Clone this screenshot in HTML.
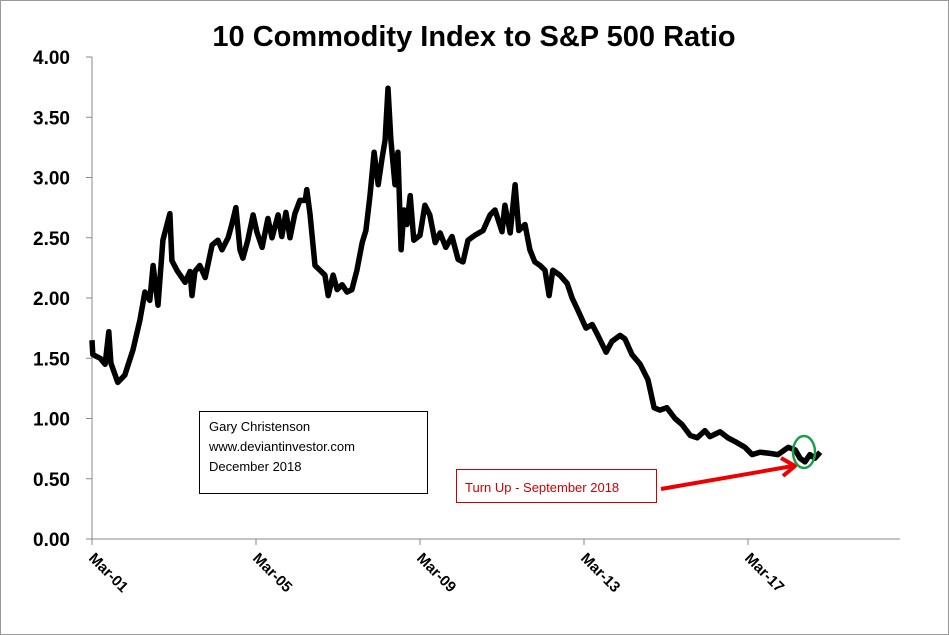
<!DOCTYPE html>
<html><head><meta charset="utf-8"><style>
body{margin:0;background:#fff}
svg{display:block;font-family:"Liberation Sans",sans-serif}
</style></head><body>
<svg id="chart" width="949" height="635">
<rect x="0.5" y="0.5" width="948" height="634" fill="#fff" stroke="#999"/>
<text x="474" y="46" text-anchor="middle" font-size="29" font-weight="bold">10 Commodity Index to S&amp;P 500 Ratio</text>
<g id="axes"></g>
<path id="line" fill="none" stroke="#000" stroke-width="5.5" stroke-linejoin="round"/>
<rect x="199.5" y="411.5" width="228" height="82" fill="#fff" stroke="#000"/>
<text font-size="13"><tspan x="209" y="431">Gary Christenson</tspan><tspan x="209" y="451">www.deviantinvestor.com</tspan><tspan x="209" y="471">December 2018</tspan></text>
<rect x="456.5" y="469.5" width="200" height="33" fill="#fff" stroke="#c00"/>
<text x="465" y="492" font-size="13" fill="#c00">Turn Up - September  2018</text>
<line x1="661" y1="489" x2="793" y2="466" stroke="#e00" stroke-width="4"/>
<polyline points="781,458 795,466 783,476" fill="none" stroke="#e00" stroke-width="4" stroke-linejoin="round"/>
<ellipse cx="804" cy="452" rx="11" ry="16" fill="none" stroke="#1a9e4a" stroke-width="2.5"/>
</svg>
<script>
const years=[2001.17,2001.19,2001.37,2001.49,2001.58,2001.63,2001.80,2001.97,2002.17,2002.34,2002.46,2002.58,2002.66,2002.78,2002.90,2003.07,2003.12,2003.24,2003.44,2003.56,2003.61,2003.68,2003.80,2003.93,2004.10,2004.24,2004.34,2004.49,2004.58,2004.68,2004.78,2004.85,2004.97,2005.10,2005.19,2005.32,2005.46,2005.56,2005.71,2005.80,2005.90,2006.00,2006.12,2006.24,2006.37,2006.41,2006.49,2006.61,2006.73,2006.85,2006.93,2007.05,2007.15,2007.27,2007.39,2007.51,2007.63,2007.76,2007.85,2007.95,2008.05,2008.15,2008.24,2008.32,2008.39,2008.46,2008.56,2008.63,2008.71,2008.78,2008.85,2008.93,2009.02,2009.17,2009.29,2009.41,2009.54,2009.66,2009.80,2009.95,2010.10,2010.22,2010.34,2010.51,2010.71,2010.88,2011.00,2011.17,2011.24,2011.37,2011.49,2011.58,2011.73,2011.85,2011.97,2012.10,2012.22,2012.32,2012.41,2012.58,2012.76,2012.88,2013.02,2013.22,2013.37,2013.51,2013.71,2013.85,2014.05,2014.17,2014.34,2014.54,2014.73,2014.88,2015.02,2015.19,2015.39,2015.56,2015.76,2015.93,2016.12,2016.24,2016.49,2016.68,2016.90,2017.10,2017.27,2017.46,2017.71,2017.90,2018.15,2018.32,2018.44,2018.56,2018.68,2018.80,2018.93];
const ratios=[1.65,1.53,1.50,1.45,1.72,1.46,1.30,1.36,1.57,1.82,2.05,1.98,2.27,1.94,2.48,2.70,2.31,2.23,2.13,2.22,2.02,2.22,2.27,2.17,2.44,2.48,2.40,2.50,2.61,2.75,2.40,2.33,2.48,2.69,2.55,2.42,2.66,2.50,2.69,2.51,2.71,2.50,2.70,2.81,2.81,2.90,2.69,2.27,2.23,2.19,2.02,2.19,2.07,2.11,2.05,2.07,2.23,2.46,2.56,2.85,3.21,2.94,3.15,3.31,3.74,3.31,2.94,3.21,2.40,2.73,2.61,2.85,2.48,2.52,2.77,2.69,2.46,2.54,2.42,2.51,2.32,2.30,2.48,2.52,2.56,2.69,2.73,2.55,2.77,2.54,2.94,2.56,2.61,2.40,2.30,2.27,2.23,2.02,2.23,2.19,2.12,2.00,1.90,1.75,1.78,1.69,1.55,1.64,1.69,1.66,1.53,1.45,1.32,1.09,1.07,1.09,1.00,0.95,0.86,0.84,0.90,0.85,0.89,0.84,0.80,0.76,0.70,0.72,0.71,0.70,0.76,0.74,0.67,0.64,0.70,0.67,0.72];
const yTicks=[0,0.5,1,1.5,2,2.5,3,3.5,4];
const xTickYears=[2001.17,2005.17,2009.17,2013.17,2017.17];
const xTickLabels=["Mar-01","Mar-05","Mar-09","Mar-13","Mar-17"];
const X=y=>92+(y-2001.17)*41;
const Y=v=>539-v*120.5;
const NS="http://www.w3.org/2000/svg";
const g=document.getElementById('axes');
function mk(t,a){const e=document.createElementNS(NS,t);for(const k in a)e.setAttribute(k,a[k]);g.appendChild(e);return e;}
let e=mk('line',{x1:92,y1:Y(4),x2:92,y2:539,stroke:'#888'});


e=mk('line',{x1:92,y1:539,x2:900,y2:539,stroke:'#888'});


yTicks.forEach(v=>{
 let t=mk('line',{x1:86,y1:Y(v),x2:92,y2:Y(v),stroke:'#888'});
 
 
 let l=mk('text',{x:70,y:Y(v)+7,'text-anchor':'end','font-size':19,'font-weight':'bold'});
 l.textContent=v.toFixed(2);
 
 
});
xTickYears.forEach((yr,i)=>{
 const x=X(yr);
 let t=mk('line',{x1:x,y1:539,x2:x,y2:545,stroke:'#888'});
 
 
 let l=mk('text',{x:x-4,y:559,'font-size':15,'font-weight':'bold',transform:`rotate(45 ${x-4} 559)`});
 l.textContent=xTickLabels[i];
 
 
});
document.getElementById('line').setAttribute('d',years.map((yr,i)=>(i?'L':'M')+X(yr).toFixed(1)+' '+Y(ratios[i]).toFixed(1)).join(' '));
</script>
</body></html>
